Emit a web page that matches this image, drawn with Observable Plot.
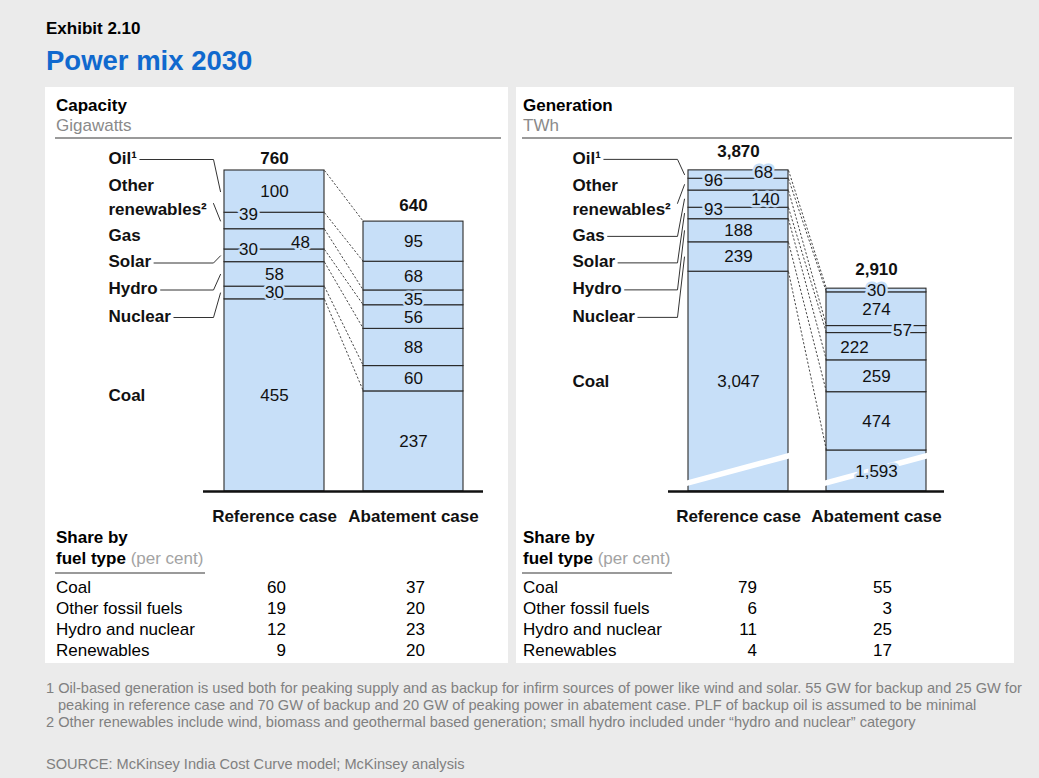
<!DOCTYPE html>
<html><head><meta charset="utf-8">
<script src="https://cdn.jsdelivr.net/npm/d3@7"></script>
<script src="https://cdn.jsdelivr.net/npm/@observablehq/plot@0.6"></script>
<style>
html,body{margin:0;padding:0;background:#ebebeb;}
#root{position:relative;width:1039px;height:778px;background:#ebebeb;font-family:"Liberation Sans",Arial,Helvetica,sans-serif;overflow:hidden;}
.t{position:absolute;white-space:nowrap;}
.panel{position:absolute;background:#fff;}
.rule{position:absolute;background:#9a9a9a;}
svg.plotsvg{position:absolute;overflow:visible;}
</style></head><body><div id="root"></div>
<script>
// ---------------- DATA ----------------
const cases = ["Reference case", "Abatement case"];
// stacking order, bottom to top
const categories = ["Coal", "Nuclear", "Hydro", "Solar", "Gas", "Other renewables", "Oil"];
const categoryLabelLines = {
  "Oil": ["Oil¹"], "Other renewables": ["Other", "renewables²"], "Gas": ["Gas"],
  "Solar": ["Solar"], "Hydro": ["Hydro"], "Nuclear": ["Nuclear"], "Coal": ["Coal"]
};
const capacityReference = [455, 30, 58, 30, 48, 39, 100];
const capacityAbatement = [237, 60, 88, 56, 35, 68, 95];
const capacityTotals = [760, 640];
const generationReference = [3047, 239, 188, 93, 140, 96, 68];
const generationAbatement = [1593, 474, 259, 222, 57, 274, 30];
const generationTotals = [3870, 2910];

const shareCategories = ["Coal", "Other fossil fuels", "Hydro and nuclear", "Renewables"];
const capacityShareReference = [60, 19, 12, 9];
const capacityShareAbatement = [37, 20, 23, 20];
const generationShareReference = [79, 6, 11, 4];
const generationShareAbatement = [55, 3, 25, 17];

const footnotes = [
  "1 Oil-based generation is used both for peaking supply and as backup for infirm sources of power like wind and solar. 55 GW for backup and 25 GW for",
  "peaking in reference case and 70 GW of backup and 20 GW of peaking power in abatement case. PLF of backup oil is assumed to be minimal",
  "2 Other renewables include wind, biomass and geothermal based generation; small hydro included under “hydro and nuclear” category"
];
const sourceNote = "SOURCE: McKinsey India Cost Curve model; McKinsey analysis";

// ---------------- STYLE ----------------
const FONT = '"Liberation Sans", Arial, Helvetica, sans-serif';
const BAR_FILL = "#c7dff8";
const BAR_STROKE = "#2a2a2a";
const TITLE_BLUE = "#1069ce";
const GREY_TEXT = "#8a8a8a";
const root = document.getElementById("root");

function addText(x, baseline, html, {size = 17, weight = "normal", color = "#000", anchor = "start"} = {}) {
  const d = document.createElement("div");
  d.className = "t";
  d.style.left = x + "px";
  d.style.top = (baseline - 0.8465 * size) + "px";
  d.style.fontSize = size + "px";
  d.style.lineHeight = size + "px";
  d.style.fontWeight = weight;
  d.style.color = color;
  if (anchor === "end") d.style.transform = "translateX(-100%)";
  if (anchor === "middle") d.style.transform = "translateX(-50%)";
  d.innerHTML = html;
  root.appendChild(d);
}
function addBox(cls, x, y, w, h) {
  const d = document.createElement("div");
  d.className = cls;
  Object.assign(d.style, {left: x + "px", top: y + "px", width: w + "px", height: h + "px"});
  root.appendChild(d);
}
const ctx = document.createElement("canvas").getContext("2d");
function textWidth(s, font) { ctx.font = font; return ctx.measureText(s).width; }

// ---------------- PAGE FRAME ----------------
addText(46, 34, "Exhibit 2.10", {size: 17, weight: "bold"});
addText(46, 70, "Power mix 2030", {size: 27.5, weight: "bold", color: TITLE_BLUE});
addBox("panel", 45, 87, 463, 576);
addBox("panel", 516, 87, 498, 576);

// ---------------- PANEL ----------------
function drawPanel(cfg) {
  const {left, top, width, height, xDomain, yDomain, yRange, gap, series, totals,
         place, totalDy, noLeader, breakBand, baseExt} = cfg;
  const xs = d3.scaleLinear(xDomain, [0, width]);
  const ys = d3.scaleLinear(yDomain, yRange);
  const xv = p => xs.invert(p), yv = p => ys.invert(p);
  const fmt = d3.format(",");

  const segs = [];
  series.forEach((vals, i) => {
    let acc = 0;
    const x1 = i * (1 + gap);
    vals.forEach((v, k) => {
      segs.push({ci: i, cat: categories[k], value: v, y1: acc, y2: acc + v, x1, x2: x1 + 1});
      acc += v;
    });
  });
  const segOf = (ci, cat) => segs.find(s => s.ci === ci && s.cat === cat);
  const midPx = s => (ys(s.y1) + ys(s.y2)) / 2;

  // segment labels
  const labels = segs.map(s => {
    const p = place[s.ci + "|" + s.cat] || {};
    const cx = xs((s.x1 + s.x2) / 2) + (p.dx || 0);
    const cy = midPx(s) + (p.dy || 0);
    return {x: xv(cx), y: yv(cy), text: fmt(s.value)};
  });

  // totals
  const totalLabels = totals.map((t, i) => {
    const x1 = i * (1 + gap);
    const topVal = d3.sum(series[i]);
    return {x: x1 + 0.5, y: yv(ys(topVal) + totalDy[i]), text: fmt(t)};
  });

  // dashed connectors between segment tops
  const connectors = categories.map(cat => ({
    x1: 1, y1: segOf(0, cat).y2, x2: 1 + gap, y2: segOf(1, cat).y2
  }));

  // category labels (left of the reference bar)
  const refTopPx = ys(d3.sum(series[0]));
  const rowOffsets = {"Oil": [-12], "Other renewables": [15.5, 39], "Gas": [65], "Solar": [91.5], "Hydro": [118.5], "Nuclear": [146]};
  const labelXpx = xs(0) - 116;
  const kneePx = xs(0) - 11, endPx = xs(0) - 4;
  const catText = [];
  const leaders = [];
  const boldFont = 'bold 17px "Liberation Sans"';
  categories.forEach(cat => {
    const lines = categoryLabelLines[cat];
    let rows;
    if (cat === "Coal") rows = [midPx(segOf(0, "Coal"))];
    else rows = rowOffsets[cat].map(o => refTopPx + o);
    lines.forEach((ln, j) => catText.push({x: xv(labelXpx), y: yv(rows[j]), text: ln}));
    if (cat === "Coal" || noLeader.includes(cat)) return;
    const m = midPx(segOf(0, cat));
    let pts;
    if (cat === "Other renewables") {
      pts = [[kneePx, rows[1] - 6], [endPx, m]];
    } else {
      const r = rows[0] + 1;
      const tEnd = labelXpx + textWidth(lines[0], boldFont) + 3;
      pts = [[tEnd, r], [kneePx, r], [endPx, m]];
    }
    pts.forEach(([px, py], idx) => leaders.push({cat, order: idx, x: xv(px), y: yv(py)}));
  });

  const caseLabels = cases.map((c, i) => ({x: i * (1 + gap) + 0.5, y: yv(ys(0) + 25), text: c}));

  const marks = [
    Plot.rect(segs, {x1: "x1", x2: "x2", y1: "y1", y2: "y2", fill: BAR_FILL, stroke: BAR_STROKE, strokeWidth: 1.1})
  ];
  if (breakBand) {
    const bands = cases.map((c, i) => ({x1: i * (1 + gap) - 0.05, x2: i * (1 + gap) + 1.05, y1: breakBand[0], y2: breakBand[1]}));
    marks.push(Plot.link(bands, {x1: "x1", y1: "y1", x2: "x2", y2: "y2", stroke: "white", strokeWidth: 5.5}));
  }
  marks.push(
    Plot.link(connectors, {x1: "x1", y1: "y1", x2: "x2", y2: "y2", stroke: "#333", strokeWidth: 0.9, strokeDasharray: "2.2,1.8"}),
    Plot.ruleY([0], {x1: -baseExt[0], x2: 2 + gap + baseExt[1], stroke: "#111", strokeWidth: 2.5}),
    Plot.line(leaders, {x: "x", y: "y", z: "cat", stroke: "#333", strokeWidth: 1, curve: "linear"}),
    Plot.text(labels, {x: "x", y: "y", text: "text", fontSize: 17, fill: "#111", stroke: BAR_FILL, strokeWidth: 5, paintOrder: "stroke"}),
    Plot.text(totalLabels, {x: "x", y: "y", text: "text", fontSize: 17, fontWeight: "bold", fill: "#111"}),
    Plot.text(catText, {x: "x", y: "y", text: "text", fontSize: 17, fontWeight: "bold", fill: "#111", textAnchor: "start"}),
    Plot.text(caseLabels, {x: "x", y: "y", text: "text", fontSize: 17, fontWeight: "bold", fill: "#111"})
  );

  const svg = Plot.plot({
    width, height, margin: 0,
    x: {type: "linear", domain: xDomain, range: [0, width], axis: null},
    y: {type: "linear", domain: yDomain, range: yRange, axis: null},
    style: {fontFamily: FONT, fontSize: "17px", background: "transparent", overflow: "visible"},
    marks
  });
  svg.classList.add("plotsvg");
  svg.style.left = left + "px";
  svg.style.top = top + "px";
  root.appendChild(svg);
}

// Capacity panel
addText(56, 111, "Capacity", {weight: "bold"});
addText(56, 131, "Gigawatts", {color: GREY_TEXT});
addBox("rule", 55, 137, 446, 2);
drawPanel({
  left: 45, top: 140, width: 463, height: 390,
  xDomain: [-1.79, 2.84], yDomain: [0, 760], yRange: [351, 30], gap: 0.39,
  series: [capacityReference, capacityAbatement], totals: capacityTotals,
  place: {
    "0|Other renewables": {dx: -26, dy: -6}, "0|Gas": {dx: 26, dy: 3}, "0|Solar": {dx: -26, dy: -6},
    "1|Gas": {dy: 2}
  },
  totalDy: [-12, -16], noLeader: ["Gas"], breakBand: null, baseExt: [0.21, 0.2]
});

// Generation panel (broken axis: the bottom of the coal bars is compressed)
addText(523, 111, "Generation", {weight: "bold"});
addText(523, 131, "TWh", {color: GREY_TEXT});
addBox("rule", 522, 137, 490, 2);
drawPanel({
  left: 516, top: 140, width: 498, height: 390,
  xDomain: [-1.72, 3.26], yDomain: [0, 1300, 3870], yRange: [351, 346, 30], gap: 0.38,
  series: [generationReference, generationAbatement], totals: generationTotals,
  place: {
    "0|Oil": {dx: 25, dy: -2}, "0|Other renewables": {dx: -25, dy: -4}, "0|Gas": {dx: 27},
    "0|Solar": {dx: -25, dy: -4}, "1|Gas": {dx: 26, dy: 1}, "1|Solar": {dx: -22, dy: 1}, "1|Coal": {dy: 1}
  },
  totalDy: [-19, -19], noLeader: [], breakBand: [1320, 1560], baseExt: [0.2, 0.18]
});

// ---------------- SHARE TABLES ----------------
function shareTable(x0, col1, col2, ref, abt) {
  addText(x0, 543, "Share by", {weight: "bold"});
  addText(x0, 564, '<b>fuel type</b> <span style="color:#a3a3a3">(per cent)</span>');
  addBox("rule", x0 - 1, 572, 150, 2);
  shareCategories.forEach((c, i) => {
    const b = 593.5 + i * 20.8;
    addText(x0, b, c);
    addText(col1, b, String(ref[i]), {anchor: "end"});
    addText(col2, b, String(abt[i]), {anchor: "end"});
  });
}
shareTable(56, 286, 425, capacityShareReference, capacityShareAbatement);
shareTable(523, 757, 892, generationShareReference, generationShareAbatement);

// ---------------- FOOTNOTES ----------------
const FN = 14.6;
addText(46, 693, footnotes[0], {size: FN, color: "#808080"});
addText(58, 710, footnotes[1], {size: FN, color: "#808080"});
addText(46, 727, footnotes[2], {size: FN, color: "#808080"});
addText(46, 769, sourceNote, {size: FN, color: "#808080"});
</script></body></html>
